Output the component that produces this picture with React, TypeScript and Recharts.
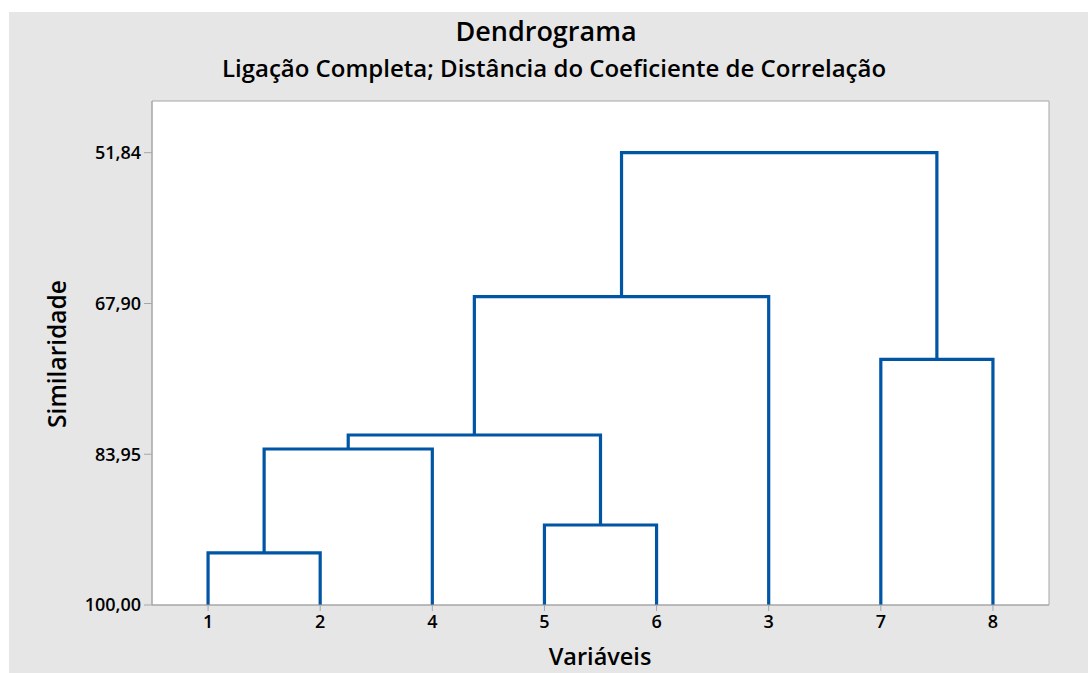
import React from 'react';
import { LineChart, Line, XAxis, YAxis, ReferenceArea } from 'recharts';

// Leaf order along the x axis
const leaves: string[] = ['1', '2', '4', '5', '6', '3', '7', '8'];
// Merges: node ids 0..7 are leaves, 8.. are merges in this order
const mergeLeft: number[] = [0, 3, 8, 10, 6, 11, 13];
const mergeRight: number[] = [1, 4, 2, 9, 7, 5, 12];
const mergeHeight: number[] = [94.46, 91.48, 83.39, 81.9, 73.84, 67.17, 51.84];
const yTicks: number[] = [51.84, 67.9, 83.95, 100];
const leafHeight = 100;

const FONT = '"Open Sans", "Noto Sans", sans-serif';
const BLUE = '#0055a5';
const AXIS = '#a6a6a6';

function buildSegments() {
  const nx: number[] = leaves.map((_, i) => i);
  const ny: number[] = leaves.map(() => leafHeight);
  const segs: { x: number; y: number }[][] = [];
  mergeHeight.forEach((h, k) => {
    const l = mergeLeft[k];
    const r = mergeRight[k];
    segs.push([
      { x: nx[l], y: ny[l] },
      { x: nx[l], y: h },
      { x: nx[r], y: h },
      { x: nx[r], y: ny[r] },
    ]);
    nx.push((nx[l] + nx[r]) / 2);
    ny.push(h);
  });
  return segs;
}

const segments = buildSegments();
const fmt = (v: number) => v.toFixed(2).replace('.', ',');

export default function App() {
  return (
    <div style={{ position: 'absolute', left: 0, top: 0, width: 1088, height: 673, background: '#fff', overflow: 'hidden' }}>
      <div style={{ position: 'absolute', left: 9, top: 12, width: 1079, height: 661, background: '#e6e6e6' }} />
      <div style={{ position: 'absolute', left: 0, top: 0 }}>
        <LineChart width={1088} height={673} margin={{ top: 101, right: 39, bottom: 38, left: 92 }}>
          <XAxis
            type="number"
            dataKey="x"
            domain={[-0.5, leaves.length - 0.5]}
            ticks={leaves.map((_, i) => i)}
            tickFormatter={(i: number) => leaves[i]}
            allowDataOverflow
            height={30}
            stroke={AXIS}
            tickSize={6}
            tickMargin={4}
            tick={{ fill: '#000', fontSize: 18, fontWeight: 600, fontFamily: FONT }}
          />
          <YAxis
            type="number"
            reversed
            domain={[46.34, 100]}
            ticks={yTicks}
            tickFormatter={fmt}
            allowDataOverflow
            width={60}
            stroke={AXIS}
            tickSize={8}
            tickMargin={3}
            tick={{ fill: '#000', fontSize: 18, fontWeight: 600, fontFamily: FONT }}
          />
          <ReferenceArea x1={-0.5} x2={leaves.length - 0.5} y1={46.34} y2={100} fill="#ffffff" fillOpacity={1} stroke={AXIS} strokeWidth={1} ifOverflow="visible" />
          {segments.map((seg, i) => (
            <Line
              key={i}
              data={seg}
              dataKey="y"
              type="linear"
              stroke={BLUE}
              strokeWidth={3.2}
              strokeLinejoin="miter"
              dot={false}
              activeDot={false}
              isAnimationActive={false}
            />
          ))}
        </LineChart>
      </div>
      <svg width={1088} height={673} style={{ position: 'absolute', left: 0, top: 0, pointerEvents: 'none' }}>
        <text x={546} y={41} textAnchor="middle" fontFamily={FONT} fontWeight={600} fontSize={27} fill="#000">Dendrograma</text>
        <text x={554} y={77} textAnchor="middle" fontFamily={FONT} fontWeight={600} fontSize={24} fill="#000">Ligação Completa; Distância do Coeficiente de Correlação</text>
        <text x={600} y={665} textAnchor="middle" fontFamily={FONT} fontWeight={600} fontSize={23.5} fill="#000">Variáveis</text>
        <text x={66} y={354} textAnchor="middle" fontFamily={FONT} fontWeight={600} fontSize={24.5} fill="#000" transform="rotate(-90 66 354)">Similaridade</text>
      </svg>
    </div>
  );
}
